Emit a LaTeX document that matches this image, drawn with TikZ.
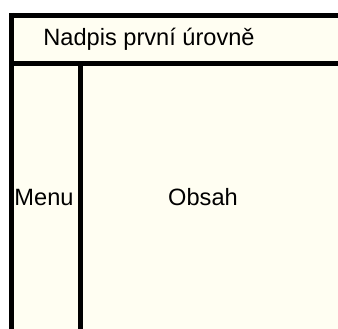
\documentclass[tikz,border=0pt]{standalone}
\usepackage{fontspec}
\setmainfont{Liberation Sans}
\definecolor{cream}{RGB}{255,254,242}
\begin{document}
\begin{tikzpicture}[x=1pt,y=-1pt,
  frameline/.style={line width=5pt,black},
  label/.style={inner sep=0pt,anchor=base,font=\fontsize{23.6}{28}\selectfont}]
\useasboundingbox (0,0) rectangle (338,329);
\fill[white] (0,0) rectangle (338,329);
\fill[cream] (9,13) rectangle (338,329);
% frame lines
\draw[frameline] (9,15.5) -- (338,15.5);
\draw[frameline] (11.5,13) -- (11.5,329);
\draw[frameline] (9,63.5) -- (338,63.5);
\draw[frameline] (80.2,63.5) -- (80.2,329);
% texts
\node[label] (nadpis) at (149,46) {Nadpis první úrovně};
\node[label] (menu) at (44,205) {Menu};
\node[label] (obsah) at (203,205) {Obsah};
\end{tikzpicture}
\end{document}
